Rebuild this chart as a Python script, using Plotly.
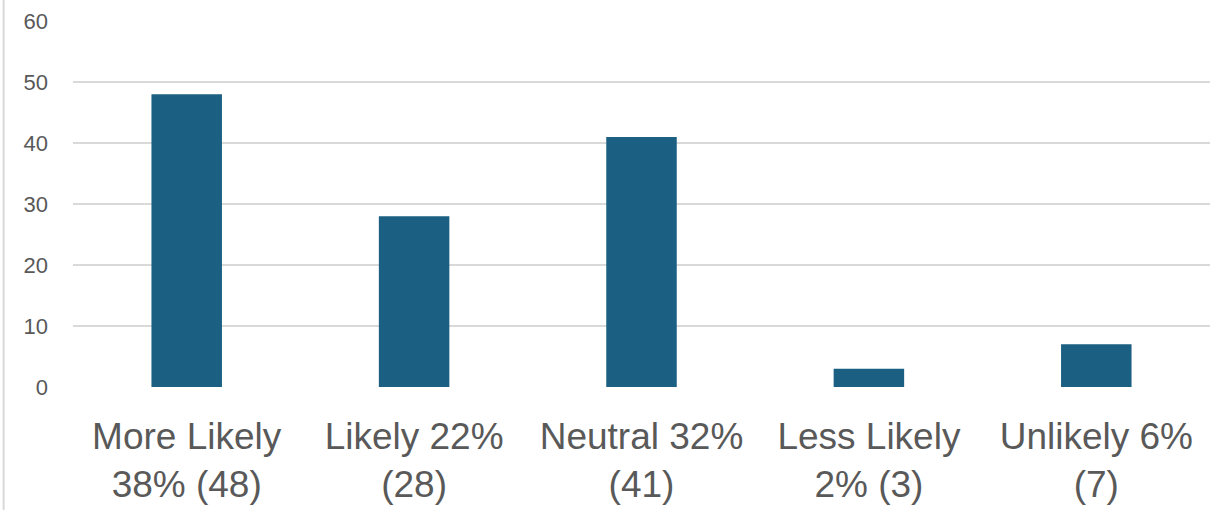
import plotly.graph_objects as go

categories = ["More Likely<br>38% (48)", "Likely 22%<br>(28)", "Neutral 32%<br>(41)",
              "Less Likely<br>2% (3)", "Unlikely 6%<br>(7)"]
counts = [48, 28, 41, 3, 7]
y_ticks = [0, 10, 20, 30, 40, 50, 60]

text_color = "#595959"
bar_color = "#1B5F82"
grid_color = "#D9D9D9"

fig = go.Figure(go.Bar(x=categories, y=counts, marker=dict(color=bar_color, line=dict(width=0))))

fig.update_layout(
    width=1217, height=510,
    margin=dict(l=73, r=7, t=21, b=123),
    paper_bgcolor="white", plot_bgcolor="white",
    bargap=0.69,
    showlegend=False,
    font=dict(family="Liberation Sans, Arial, sans-serif", color=text_color),
    shapes=[dict(type="line", xref="paper", yref="paper",
                 x0=-0.061, x1=-0.061, y0=-0.4, y1=1.06,
                 line=dict(color=grid_color, width=2))],
)
fig.update_yaxes(range=[0, 60], tickvals=y_ticks, showgrid=True, gridcolor=grid_color,
                 gridwidth=1.5, zeroline=False, showline=False, automargin=False,
                 tickfont=dict(size=22, color=text_color), ticklabelstandoff=24)
fig.update_xaxes(showgrid=False, showline=False, zeroline=False, automargin=False,
                 tickfont=dict(size=37, color=text_color), ticklabelstandoff=24)

fig.write_html("out.html")
